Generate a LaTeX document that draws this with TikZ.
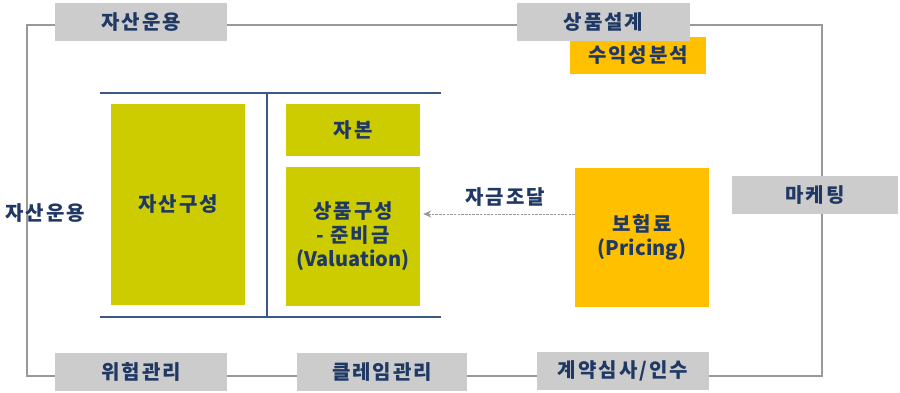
\documentclass[tikz,border=0pt]{standalone}
\usepackage{fontspec}
\setmainfont{Noto Sans CJK KR}
\usetikzlibrary{calc,arrows.meta}
\newcommand{\ks}[1]{{\addfontfeature{LetterSpace=10}#1}}
\definecolor{navy}{HTML}{1F3864}
\definecolor{olive}{HTML}{CCCC00}
\definecolor{amber}{HTML}{FFC000}
\definecolor{lgray}{HTML}{CCCCCC}
\definecolor{fgray}{HTML}{999999}
\definecolor{iline}{HTML}{3A5A85}
\tikzset{
  tag/.style={fill=lgray, draw=none, inner sep=0pt, minimum height=38pt, text=navy, font=\fontsize{20}{22}\selectfont\bfseries},
  blk/.style={fill=olive, draw=none, inner sep=0pt, minimum width=134pt, text=navy, align=center, font=\fontsize{20}{24}\selectfont\bfseries},
  oblk/.style={fill=amber, draw=none, inner sep=0pt, text=navy, align=center, font=\fontsize{20}{24}\selectfont\bfseries},
  frame/.style={draw=fgray, line width=1.1pt},
  inner/.style={draw=iline, line width=1.3pt},
  lbl/.style={text=navy, inner sep=0pt, font=\fontsize{20}{22}\selectfont\bfseries}
}
\begin{document}
\begin{tikzpicture}[x=1pt,y=-1pt]
\useasboundingbox (0,0) rectangle (900,392);
% outer frame
\coordinate (f1) at (27,25);
\coordinate (f2) at (822,376);
\draw[frame] (f1) rectangle (f2);
% inner structure
\coordinate (h1a) at (100,93); \coordinate (h1b) at (441,93);
\coordinate (h2a) at (100,317); \coordinate (h2b) at (441,317);
\coordinate (va) at (267,93); \coordinate (vb) at (267,317);
\draw[inner] (h1a) -- (h1b);
\draw[inner] (h2a) -- (h2b);
\draw[inner] (va) -- (vb);
% frame labels
\node[oblk, minimum width=136pt, minimum height=37pt, font=\fontsize{20}{22}\selectfont\bfseries] (sy) at (638,55) {\ks{수익성분석}};
\node[tag, minimum width=172pt] (ja) at (141,22) {\ks{자산운용}};
\node[tag, minimum width=173pt] (sp) at (603.5,22) {\ks{상품설계}};
\node[tag, minimum width=166pt] (mk) at (815,195) {\ks{마케팅}};
\node[tag, minimum width=172pt] (wh) at (141,372) {\ks{위험관리}};
\node[tag, minimum width=170pt] (cl) at (382,372) {\ks{클레임관리}};
\node[tag, minimum width=172pt] (gy) at (623,371) {\ks{계약심사/인수}};
\node[lbl] (left) at (45,213) {\ks{자산운용}};
% blocks
\node[blk, minimum height=201pt] (js) at (178,204.5) {\ks{자산구성}};
\node[blk, minimum height=52pt] (jb) at (353,130) {\ks{자본}};
\node[blk, minimum height=139pt] (sg) at (353,236.5) {\ks{상품구성}\\\ks{- 준비금}\\(Valuation)};
\node[oblk, minimum width=134pt, minimum height=139pt] (bo) at (642,237.5) {\ks{보험료}\\(Pricing)};
% arrow
\draw[fgray, line width=1pt, dash pattern=on 2.5pt off 1.2pt, -{Stealth[length=8pt,width=7pt]}, shorten >=3pt]
  ($(bo.west)+(0,-23.5)$) -- ($(sg.east)+(0,-22.5)$);
\node[lbl] (jj) at (505,197) {\ks{자금조달}};
\end{tikzpicture}
\end{document}
